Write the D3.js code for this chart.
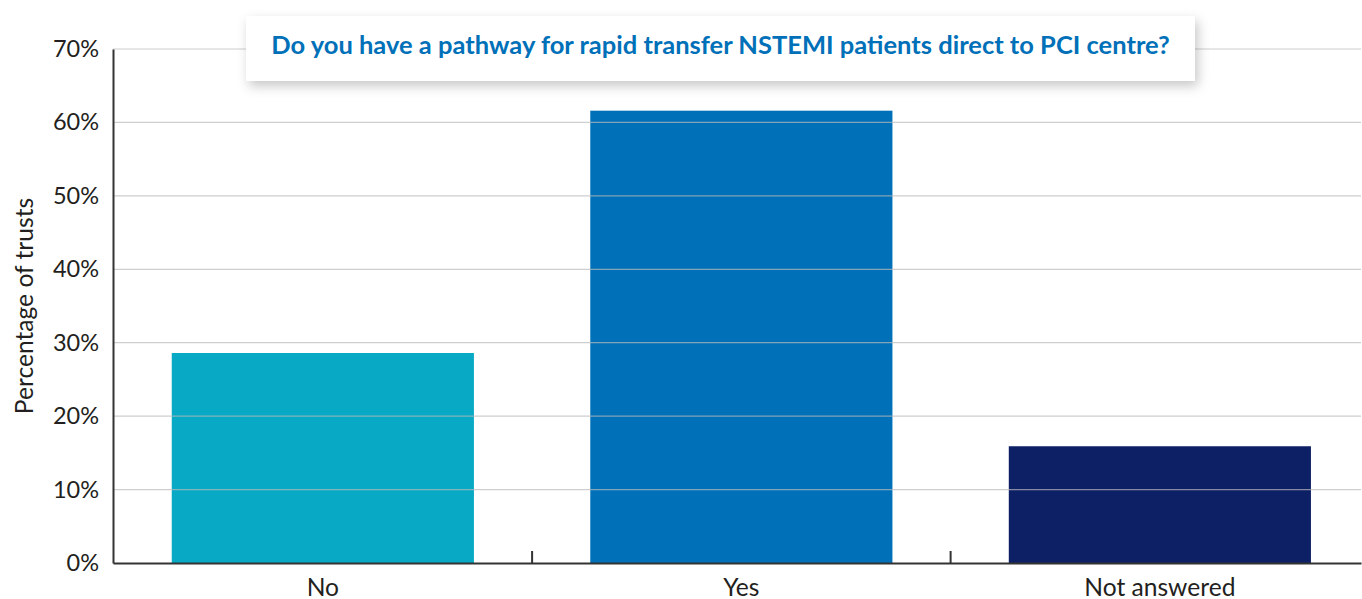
<!DOCTYPE html>
<html>
<head>
<meta charset="utf-8">
<script src="https://cdn.jsdelivr.net/npm/d3@7"></script>
<style>
  body { margin: 0; background: #fff; }
  svg { display: block; font-family: Lato, "Open Sans", sans-serif; }
</style>
</head>
<body>
<div id="chart"></div>
<script>
const categories = ['No', 'Yes', 'Not answered'];
const values = [28.6, 61.6, 15.9];
const barColors = ['#07a9c5', '#0071b9', '#0e2065'];
const yTicks = [0, 10, 20, 30, 40, 50, 60, 70];
const title = 'Do you have a pathway for rapid transfer NSTEMI patients direct to PCI centre?';

const width = 1362, height = 599;
const plotLeft = 113, plotRight = 1361, plotTop = 49, plotBottom = 563;

const svg = d3.select('#chart').append('svg')
    .attr('width', width)
    .attr('height', height);

const x = d3.scaleBand()
    .domain(categories)
    .range([plotLeft, plotRight])
    .paddingInner(0.278)
    .paddingOuter(0.13)
    .align(0.54);

const y = d3.scaleLinear()
    .domain([0, 70])
    .range([plotBottom, plotTop]);

// bars
svg.append('g')
    .selectAll('rect')
    .data(categories)
    .join('rect')
    .attr('x', d => x(d))
    .attr('y', (d, i) => y(values[i]))
    .attr('width', x.bandwidth())
    .attr('height', (d, i) => y(0) - y(values[i]))
    .attr('fill', (d, i) => barColors[i]);

// gridlines drawn over bars
svg.append('g')
    .selectAll('line')
    .data(yTicks.filter(d => d > 0))
    .join('line')
    .attr('x1', plotLeft)
    .attr('x2', plotRight)
    .attr('y1', d => y(d))
    .attr('y2', d => y(d))
    .attr('stroke', '#b9b9b9')
    .attr('stroke-opacity', 0.7)
    .attr('stroke-width', 1.2);

// y axis
const yAxis = svg.append('g')
    .attr('transform', `translate(${plotLeft},0)`)
    .call(d3.axisLeft(y).tickValues(yTicks).tickSize(0).tickPadding(14).tickFormat(d => d + '%'));
yAxis.select('.domain').attr('stroke', '#333').attr('stroke-width', 2);
yAxis.selectAll('text')
    .attr('font-size', 23.5)
    .attr('fill', '#231f20')
    .attr('font-family', 'Lato, sans-serif');

// x axis
const xAxis = svg.append('g')
    .attr('transform', `translate(0,${plotBottom})`)
    .call(d3.axisBottom(x).tickSize(0).tickPadding(15.5));
xAxis.select('.domain').attr('stroke', '#333').attr('stroke-width', 2);
xAxis.selectAll('text')
    .attr('font-size', 24.6)
    .attr('fill', '#231f20')
    .attr('font-family', 'Lato, sans-serif');

// category separator ticks
const step = x.step();
svg.append('g')
    .selectAll('line')
    .data(categories.slice(1))
    .join('line')
    .attr('x1', d => x(d) - (step - x.bandwidth()) / 2)
    .attr('x2', d => x(d) - (step - x.bandwidth()) / 2)
    .attr('y1', plotBottom - 12)
    .attr('y2', plotBottom)
    .attr('stroke', '#333')
    .attr('stroke-width', 2);

// y axis title
svg.append('text')
    .attr('transform', `translate(33,${(plotTop + plotBottom) / 2}) rotate(-90)`)
    .attr('text-anchor', 'middle')
    .attr('font-size', 24.6)
    .attr('fill', '#231f20')
    .text('Percentage of trusts');

// title box with shadow
const defs = svg.append('defs');
const f = defs.append('filter').attr('id', 'shadow')
    .attr('x', '-10%').attr('y', '-40%').attr('width', '120%').attr('height', '200%');
f.append('feDropShadow')
    .attr('dx', 3).attr('dy', 5)
    .attr('stdDeviation', 6)
    .attr('flood-color', '#000')
    .attr('flood-opacity', 0.22);

svg.append('rect')
    .attr('x', 246)
    .attr('y', 16)
    .attr('width', 949)
    .attr('height', 65)
    .attr('fill', '#fff')
    .attr('filter', 'url(#shadow)');

svg.append('text')
    .attr('x', 720.5)
    .attr('y', 53.5)
    .attr('text-anchor', 'middle')
    .attr('font-size', 25.5)
    .attr('font-weight', 700)
    .attr('fill', '#0070b8')
    .text(title);
</script>
</body>
</html>
